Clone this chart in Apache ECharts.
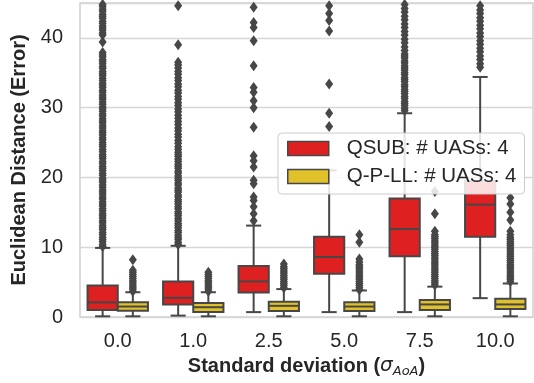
<!DOCTYPE html>
<html>
<head>
<meta charset="utf-8">
<script src="https://cdn.jsdelivr.net/npm/echarts@6/dist/echarts.min.js"></script>
<style>
  html, body { margin: 0; padding: 0; background: #fff; }
  #box { width: 534px; height: 383px; }
</style>
</head>
<body>
<div id="box"></div>
<script>
// 横轴类别 (σ_AoA)
const categories = ['0.0', '1.0', '2.5', '5.0', '7.5', '10.0'];

// 每个箱子: [下须, Q1, 中位数, Q3, 上须]
const qsubBox = [
  [0.1, 1.0, 2.1, 4.5, 9.9],
  [0.2, 1.8, 2.75, 5.1, 10.2],
  [0.7, 3.5, 5.1, 7.3, 13.1],
  [0.7, 6.2, 8.6, 11.5, 21.0],
  [0.7, 8.7, 12.6, 17.0, 29.2],
  [2.7, 11.5, 16.1, 19.5, 34.4]
];
const qpllBox = [
  [0.1, 0.9, 1.5, 2.1, 3.55],
  [0.1, 0.7, 1.4, 2.0, 3.55],
  [0.1, 0.85, 1.6, 2.2, 4.0],
  [0.1, 0.85, 1.5, 2.1, 3.8],
  [0.1, 1.0, 1.8, 2.45, 4.35],
  [0.1, 1.15, 1.8, 2.6, 4.8]
];

// 离群点 (QSUB)，密集处逐个读出
const qsubOut = [
  [10.1, 10.4, 10.8, 11.1, 11.4, 11.8, 12.1, 12.5, 12.8, 13.1, 13.5, 13.8, 14.2, 14.5, 14.8, 15.2, 15.5, 15.9, 16.2, 16.5, 16.9, 17.2, 17.6, 17.9, 18.2, 18.6, 18.9, 19.3, 19.6, 19.9,
   20.3, 20.6, 21.0, 21.3, 21.6, 22.0, 22.3, 22.7, 23.0, 23.3, 23.7, 24.0, 24.4, 24.7, 25.0, 25.4, 25.7, 26.1, 26.4, 26.7, 27.1, 27.4, 27.8, 28.1, 28.4, 28.8, 29.1, 29.5, 29.8,
   30.1, 30.5, 30.8, 31.2, 31.5, 31.8, 32.2, 32.5, 32.9, 33.2, 33.5, 33.9, 34.2, 34.6, 34.9, 35.2, 35.6, 35.9, 36.3, 36.6, 36.9, 37.3, 37.6, 37.9,
   39.4, 40.4, 40.7, 41.1, 41.4, 41.7, 42.1, 42.4, 42.8, 43.1, 43.4, 43.8, 44.1, 44.5, 44.8],
  [10.4, 10.7, 11.1, 11.4, 11.7, 12.1, 12.4, 12.8, 13.1, 13.4, 13.8, 14.1, 14.5, 14.8, 15.1, 15.5, 15.8, 16.2, 16.5, 16.8, 17.2, 17.5, 17.9, 18.2, 18.5, 18.9, 19.2, 19.6, 19.9,
   20.2, 20.6, 20.9, 21.3, 21.6, 21.9, 22.3, 22.6, 23.0, 23.3, 23.6, 24.0, 24.4, 24.9, 25.3, 25.8, 26.2, 26.7, 27.1, 27.6, 28.0, 28.5, 28.9, 29.4,
   29.8, 30.3, 30.7, 31.2, 31.6, 32.1, 32.5, 33.0, 33.4, 33.9, 34.3, 34.8, 35.2, 35.7, 36.1, 36.5, 39.0, 44.6],
  [13.8, 14.8, 15.8, 16.7, 17.2, 19.1, 19.6, 21.5, 22.4, 23.1, 27.2, 30.0, 31.0, 32.2, 32.9, 36.0, 39.6, 41.5, 42.2, 44.4],
  [27.3, 29.2, 33.4, 41.0, 42.5, 43.5, 44.6],
  [29.6, 29.9, 30.3, 30.6, 30.9, 31.3, 31.6, 32.0, 32.3, 32.6, 33.0, 33.3, 33.7, 34.0, 34.3, 34.7, 35.0, 35.4, 35.7, 36.0, 36.4, 36.7, 37.1, 37.4, 37.7,
   38.2, 38.7, 39.3, 39.8, 40.4, 40.9, 41.5, 42.0, 42.6, 43.1, 43.7, 44.2, 44.8],
  [35.8, 36.3, 36.9, 37.4, 38.0, 38.5, 39.1, 39.6, 40.2, 40.7, 41.3, 41.8, 42.4, 42.9, 43.5, 44.0, 44.6]
];
// 离群点 (Q-P-LL)
const qpllOut = [
  [3.7, 4.0, 4.3, 4.6, 4.9, 5.2, 5.5, 5.8, 6.1, 6.4, 6.7, 8.2],
  [3.7, 4.0, 4.3, 4.6, 4.9, 5.2, 5.5, 5.8, 6.1, 6.4],
  [4.2, 4.5, 4.8, 5.1, 5.4, 5.7, 6.0, 6.3, 6.6, 6.9, 7.2, 7.6],
  [3.9, 4.2, 4.5, 4.8, 5.1, 5.4, 5.7, 6.0, 6.3, 6.6, 6.9, 7.2, 7.5, 7.9, 8.3, 10.7, 11.8],
  [4.6, 4.9, 5.2, 5.5, 5.8, 6.1, 6.4, 6.7, 7.0, 7.3, 7.6, 7.9, 8.2, 8.5, 8.8, 9.1, 9.4, 9.7, 10.0, 10.3, 10.6, 10.9, 11.2, 11.5, 11.8, 12.3, 14.8, 18.0],
  [5.1, 5.4, 5.7, 6.0, 6.3, 6.6, 6.9, 7.2, 7.5, 7.8, 8.1, 8.4, 8.7, 9.0, 9.3, 9.6, 9.9, 10.2, 10.5, 10.8, 11.1, 11.4, 11.8, 12.3, 13.9, 15.0, 16.2, 17.1]
];

const yTicks = [0, 10, 20, 30, 40];

const names = ['QSUB: # UASs: 4', 'Q-P-LL: # UASs: 4'];
const colors = ['#df2020', '#e0c12a'];
const edge = '#474747';
const fontFamily = 'Liberation Sans, Arial, sans-serif';

// 箱子用 custom 画，须的端线为箱宽一半 (seaborn 样式)
function renderBox(side, color) {
  return function (params, api) {
    const cat = api.value(0);
    const bw = api.size([1, 0])[0];
    const cx = api.coord([cat, 0])[0] + side * bw * 0.2;
    const half = bw * 0.2;
    const cap = half / 2;
    const y = [1, 2, 3, 4, 5].map(function (i) {
      return api.coord([cat, api.value(i)])[1];
    });
    const line = { stroke: edge, lineWidth: 2 };
    return {
      type: 'group',
      children: [
        { type: 'line', shape: { x1: cx, y1: y[0], x2: cx, y2: y[1] }, style: line },
        { type: 'line', shape: { x1: cx, y1: y[3], x2: cx, y2: y[4] }, style: line },
        { type: 'line', shape: { x1: cx - cap, y1: y[0], x2: cx + cap, y2: y[0] }, style: line },
        { type: 'line', shape: { x1: cx - cap, y1: y[4], x2: cx + cap, y2: y[4] }, style: line },
        {
          type: 'rect',
          shape: { x: cx - half, y: y[3], width: half * 2, height: y[1] - y[3] },
          style: { fill: color, stroke: edge, lineWidth: 2 }
        },
        { type: 'line', shape: { x1: cx - half, y1: y[2], x2: cx + half, y2: y[2] }, style: line }
      ]
    };
  };
}

function boxData(stats) {
  return stats.map(function (s, i) { return [i].concat(s); });
}

function outData(list, side) {
  const pts = [];
  list.forEach(function (vals, i) {
    vals.forEach(function (v) { pts.push([i + side * 0.2, v]); });
  });
  return pts;
}

const myChart = echarts.init(document.getElementById('box'));

const option = {
  backgroundColor: '#fff',
  animation: false,
  textStyle: { fontFamily: fontFamily },
  grid: {
    left: 80,
    right: 1,
    top: 3,
    bottom: 66,
    show: true,
    borderColor: '#cfcfcf',
    borderWidth: 1.5
  },
  legend: {
    orient: 'vertical',
    left: 278,
    top: 133,
    padding: [5, 8, 7, 9],
    itemGap: 7,
    itemWidth: 41,
    itemHeight: 14,
    backgroundColor: 'rgba(255,255,255,0.85)',
    borderColor: '#cccccc',
    borderWidth: 1,
    borderRadius: 4,
    textStyle: {
      fontSize: 20.5,
      color: '#262626',
      lineHeight: 18,
      padding: [0, 0, 0, 13],
      fontFamily: fontFamily
    },
    data: [
      { name: names[0], icon: 'rect', itemStyle: { color: colors[0], borderColor: edge, borderWidth: 1.5 } },
      { name: names[1], icon: 'rect', itemStyle: { color: colors[1], borderColor: edge, borderWidth: 1.5 } }
    ]
  },
  xAxis: [
    {
      type: 'category',
      data: categories,
      axisLine: { show: false },
      axisTick: { show: false },
      axisLabel: { fontSize: 20, color: '#262626', margin: 14 },
      splitLine: { show: false },
      name: '{b|Standard deviation (}{s|σ}{sub|AoA}{b|)}',
      nameLocation: 'middle',
      nameGap: 37,
      nameTextStyle: {
        rich: {
          b: { fontSize: 20, fontWeight: 'bold', color: '#262626', fontFamily: fontFamily, lineHeight: 24 },
          s: { fontSize: 20, fontStyle: 'italic', color: '#262626', fontFamily: 'DejaVu Sans', lineHeight: 24 },
          sub: { fontSize: 13, fontStyle: 'italic', color: '#262626', fontFamily: 'DejaVu Sans', lineHeight: 24, verticalAlign: 'bottom', padding: [8, 0, 0, 0] }
        }
      }
    },
    {
      type: 'value',
      min: -0.5,
      max: categories.length - 0.5,
      show: false
    }
  ],
  yAxis: {
    type: 'value',
    min: yTicks[0],
    max: 45,
    interval: yTicks[1] - yTicks[0],
    axisLine: { show: false },
    axisTick: { show: false },
    axisLabel: { fontSize: 20, color: '#262626', margin: 17, showMaxLabel: false },
    splitLine: { lineStyle: { color: '#d6d6d6', width: 1.3 } },
    name: 'Euclidean Distance (Error)',
    nameLocation: 'middle',
    nameGap: 46,
    nameTextStyle: { fontSize: 20, fontWeight: 'bold', color: '#262626' }
  },
  series: [
    {
      name: names[0],
      type: 'scatter',
      xAxisIndex: 1,
      symbol: 'diamond',
      symbolSize: [8, 11],
      itemStyle: { color: edge, opacity: 1 },
      clip: true,
      data: outData(qsubOut, -1)
    },
    {
      name: names[1],
      type: 'scatter',
      xAxisIndex: 1,
      symbol: 'diamond',
      symbolSize: [8, 11],
      itemStyle: { color: edge, opacity: 1 },
      clip: true,
      data: outData(qpllOut, 1)
    },
    {
      name: names[0],
      type: 'custom',
      xAxisIndex: 0,
      itemStyle: { color: colors[0], borderColor: edge },
      renderItem: renderBox(-1, colors[0]),
      encode: { x: 0, y: [1, 2, 3, 4, 5] },
      data: boxData(qsubBox)
    },
    {
      name: names[1],
      type: 'custom',
      xAxisIndex: 0,
      itemStyle: { color: colors[1], borderColor: edge },
      renderItem: renderBox(1, colors[1]),
      encode: { x: 0, y: [1, 2, 3, 4, 5] },
      data: boxData(qpllBox)
    }
  ]
};

myChart.setOption(option);

window.addEventListener('resize', function () {
  myChart.resize();
});
</script>
</body>
</html>
